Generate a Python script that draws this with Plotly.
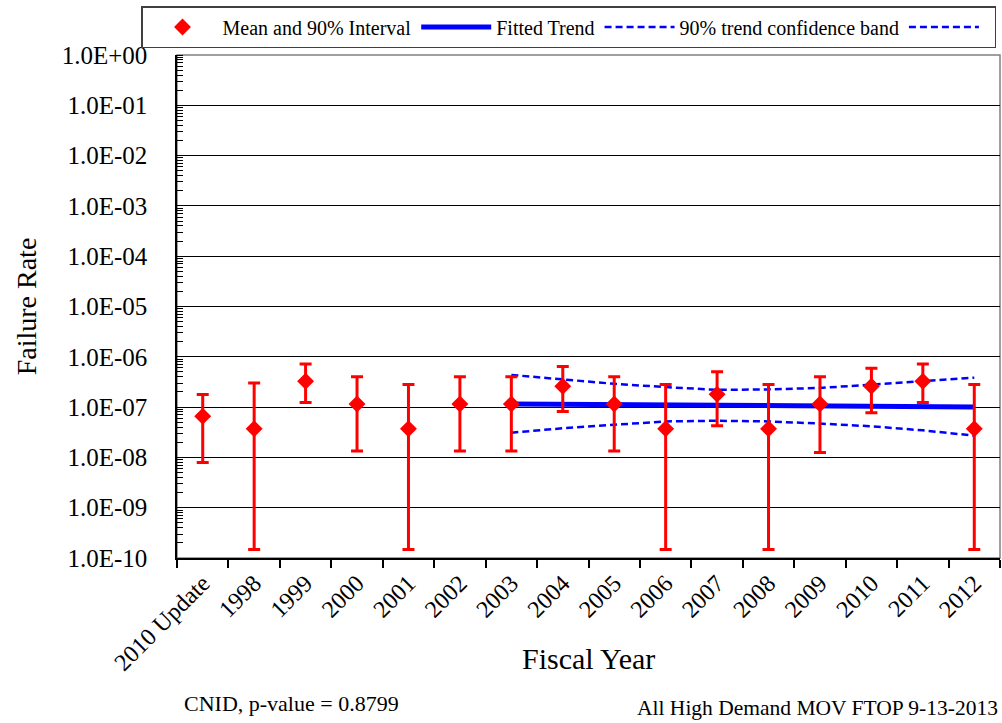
import plotly.graph_objects as go

# Fiscal-year categories
years = ["2010 Update", "1998", "1999", "2000", "2001", "2002", "2003", "2004",
         "2005", "2006", "2007", "2008", "2009", "2010", "2011", "2012"]

# Mean failure rate and 90% interval bounds per year
mean_rate = [6.6e-8, 3.7e-8, 3.27e-7, 1.15e-7, 3.7e-8, 1.15e-7, 1.15e-7, 2.6e-7,
             1.15e-7, 3.7e-8, 1.8e-7, 3.7e-8, 1.15e-7, 2.6e-7, 3.27e-7, 3.7e-8]
upper_rate = [1.78e-7, 3.0e-7, 7.2e-7, 4.0e-7, 2.8e-7, 4.0e-7, 4.0e-7, 6.4e-7,
              4.0e-7, 2.8e-7, 5.07e-7, 2.8e-7, 4.0e-7, 5.9e-7, 7.2e-7, 2.8e-7]
lower_rate = [7.9e-9, 1.48e-10, 1.23e-7, 1.34e-8, 1.48e-10, 1.34e-8, 1.34e-8, 8.2e-8,
              1.34e-8, 1.48e-10, 4.26e-8, 1.48e-10, 1.25e-8, 7.7e-8, 1.23e-7, 1.48e-10]

# Fitted trend and its 90% confidence band (2003-2012)
trend_years = ["2003", "2004", "2005", "2006", "2007", "2008", "2009", "2010", "2011", "2012"]
trend_rate = [1.15e-7, 1.14e-7, 1.12e-7, 1.11e-7, 1.10e-7, 1.09e-7, 1.07e-7, 1.05e-7, 1.03e-7, 1.01e-7]
band_upper = [4.36e-7, 3.6e-7, 2.9e-7, 2.5e-7, 2.2e-7, 2.25e-7, 2.4e-7, 2.8e-7, 3.3e-7, 3.85e-7]
band_lower = [3.1e-8, 3.8e-8, 4.45e-8, 5.2e-8, 5.35e-8, 5.2e-8, 4.7e-8, 4.15e-8, 3.45e-8, 2.7e-8]

# Y-axis decade ticks
y_tick_vals = [10.0 ** -k for k in range(0, 11)]
y_tick_text = ["1.0E+00", "1.0E-01", "1.0E-02", "1.0E-03", "1.0E-04", "1.0E-05",
               "1.0E-06", "1.0E-07", "1.0E-08", "1.0E-09", "1.0E-10"]

FONT = "Liberation Serif, Times New Roman, serif"
RED = "#FF0000"
BLUE = "#0000FF"

# plot area in pixels: x 177..1000, y 55..558
PX_L, PX_W, PX_B, PX_H = 177, 823, 558, 503

err_plus = [u - m for u, m in zip(upper_rate, mean_rate)]
err_minus = [m - l for m, l in zip(mean_rate, lower_rate)]

fig = go.Figure()

fig.add_trace(go.Scatter(
    x=trend_years, y=band_upper, mode="lines", name="90% trend confidence band",
    line=dict(color=BLUE, width=2.5, dash="7px,4px"), legendrank=3,
))
fig.add_trace(go.Scatter(
    x=trend_years, y=band_lower, mode="lines", name=" ",
    line=dict(color=BLUE, width=2.5, dash="7px,4px"), legendrank=4,
))
fig.add_trace(go.Scatter(
    x=trend_years, y=trend_rate, mode="lines", name="Fitted Trend",
    line=dict(color=BLUE, width=5), legendrank=2,
))
fig.add_trace(go.Scatter(
    x=years, y=mean_rate, mode="markers", name="Mean and 90% Interval",
    marker=dict(symbol="diamond", size=13, color=RED),
    error_y=dict(type="data", symmetric=False, array=err_plus, arrayminus=err_minus,
                 color=RED, thickness=3, width=6),
    legendrank=1,
))

fig.update_layout(
    width=1002, height=723,
    margin=dict(l=PX_L, r=1002 - PX_L - PX_W, t=PX_B - PX_H, b=723 - PX_B),
    paper_bgcolor="white", plot_bgcolor="white",
    font=dict(family=FONT, color="black"),
    showlegend=True,
    legend=dict(
        orientation="h", x=(141 - PX_L) / PX_W, xanchor="left",
        y=(PX_B - 6) / PX_H, yanchor="top",
        font=dict(family=FONT, size=20, color="black"),
        bordercolor="#404040", borderwidth=1.5, bgcolor="white",
        itemwidth=70, traceorder="normal",
    ),
    xaxis=dict(
        type="category", categoryorder="array", categoryarray=years,
        range=[-0.5, len(years) - 0.5],
        showline=True, linecolor="black", linewidth=1.5,
        ticks="outside", tickson="boundaries", ticklen=8, tickcolor="black", tickwidth=1.5,
        tickangle=-45, tickfont=dict(family=FONT, size=24, color="black"),
        showgrid=False, zeroline=False,
    ),
    yaxis=dict(
        type="log", range=[-10, 0],
        tickvals=y_tick_vals, ticktext=y_tick_text,
        tickfont=dict(family=FONT, size=25, color="black"),
        ticks="", ticklabelstandoff=23,
        showline=True, linecolor="black", linewidth=1.5,
        showgrid=True, gridcolor="black", gridwidth=1,
        minor=dict(dtick="D1", ticks="inside", ticklen=6, tickcolor="black", tickwidth=1, showgrid=False),
        zeroline=False,
        title=dict(text="Failure Rate", font=dict(family=FONT, size=28, color="black"), standoff=17),
    ),
    shapes=[dict(type="rect", xref="paper", yref="paper", x0=0, x1=1, y0=0, y1=1,
                 line=dict(color="#808080", width=1.5), layer="below")],
    annotations=[
        dict(text="Fiscal Year", xref="paper", yref="paper",
             x=0.5, y=(PX_B - 658) / PX_H, xanchor="center", yanchor="middle",
             showarrow=False, font=dict(family=FONT, size=30, color="black")),
        dict(text="CNID, p-value = 0.8799", xref="paper", yref="paper",
             x=(182 - PX_L) / PX_W, y=(PX_B - 703) / PX_H, xanchor="left", yanchor="middle",
             showarrow=False, font=dict(family=FONT, size=22, color="black")),
        dict(text="All High Demand MOV FTOP 9-13-2013", xref="paper", yref="paper",
             x=1.0, y=(PX_B - 708) / PX_H, xanchor="right", yanchor="middle",
             showarrow=False, font=dict(family=FONT, size=21.5, color="black")),
    ],
)

fig.write_html("out.html")
